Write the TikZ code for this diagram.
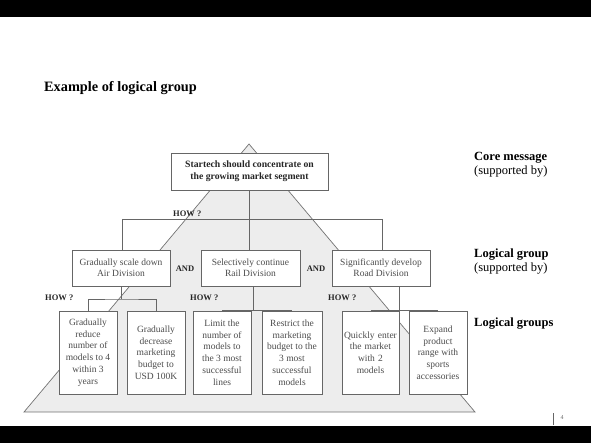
\documentclass[tikz,border=0pt]{standalone}
\usepackage{fontspec}
\setmainfont{Liberation Serif}
\begin{document}
\begin{tikzpicture}[x=1pt,y=-1pt,
  box/.style={draw=black!60,line width=0.8pt,fill=white,align=center,inner sep=0pt},
  l2text/.style={font=\fontsize{9.5}{11}\selectfont,text=black!70},
  l3text/.style={font=\fontsize{9.5}{11.7}\selectfont,text=black!70},
  conn/.style={draw=black!60,line width=0.6pt},
  lbl/.style={font=\bfseries\fontsize{8.5}{9}\selectfont,text=black!85,inner sep=0pt},
  side/.style={font=\fontsize{12.5}{15}\selectfont,align=left,anchor=north west,inner sep=0pt}]
\useasboundingbox (0,0) rectangle (591,443);
\fill[black] (0,0) rectangle (591,17);
\fill[black] (0,426) rectangle (591,443);
\node[anchor=base west,inner sep=0pt,font=\bfseries\fontsize{14.3}{16}\selectfont] (title) at (44,92) {Example of logical group};
% pyramid
\draw[draw=black!55,fill=black!7,line width=0.7pt] (249,144) -- (24,412) -- (475,412) -- cycle;
% core
\node[box,minimum width=157pt,minimum height=37pt,font=\bfseries\fontsize{9.7}{12}\selectfont,text=black!85] (core) at (249.5,171.5) {Startech should concentrate on\\the growing market segment};
% level 2
\node[box,l2text,minimum width=98pt,minimum height=36pt] (air) at (121,268) {Gradually scale down\\Air Division};
\node[box,l2text,minimum width=99pt,minimum height=36pt] (rail) at (250.5,268) {Selectively continue\\Rail Division};
\node[box,l2text,minimum width=98pt,minimum height=36pt] (road) at (381,268) {Significantly develop\\Road Division};
\coordinate (h1l) at (122,219);
\coordinate (h1m) at (249.5,219);
\coordinate (h1r) at (382,219);
\draw[conn] (core.south) -- (h1m);
\draw[conn] (h1l) -- (h1r);
\draw[conn] (h1l) -- (h1l |- air.north);
\draw[conn] (h1m) -- (h1m |- rail.north);
\draw[conn] (h1r) -- (h1r |- road.north);
\node[lbl,anchor=base west] (how1) at (173,217) {HOW ?};
\node[lbl] (and1) at (185,269) {AND};
\node[lbl] (and2) at (316,269) {AND};
\node[lbl,anchor=base west] (how2) at (45,301) {HOW ?};
\node[lbl,anchor=base west] (how3) at (190,301) {HOW ?};
\node[lbl,anchor=base west] (how4) at (328,301) {HOW ?};
% level 3
\node[box,l3text,minimum width=58pt,minimum height=83pt] (b1) at (88,352.5) {Gradually\\reduce\\number of\\models to 4\\within 3\\years};
\node[box,l3text,minimum width=58pt,minimum height=83pt] (b2) at (156,352.5) {Gradually\\decrease\\marketing\\budget to\\USD 100K};
\node[box,l3text,minimum width=58pt,minimum height=83pt] (b3) at (222,352.5) {Limit the\\number of\\models to\\the 3 most\\successful\\lines};
\node[box,l3text,minimum width=60pt,minimum height=83pt] (b4) at (292,352.5) {Restrict the\\marketing\\budget to the\\3 most\\successful\\models};
\node[box,l3text,minimum width=57pt,minimum height=83pt,text width=57pt] (b5) at (370.5,352.5) {Quickly enter\\the market\\with 2\\models};
\node[box,l3text,minimum width=58pt,minimum height=83pt] (b6) at (438,352.5) {Expand\\product\\range with\\sports\\accessories};
% level 3 connectors
\coordinate (a1) at (121,299);
\draw[conn] (air.south) -- (a1);
\draw[conn] (b1.north) |- (a1) -| (b2.north);
\coordinate (a2) at (253,311);
\draw[conn] (rail.south -| a2) -- (a2);
\draw[conn] (b3.north) -- (b4.north);
\coordinate (a3) at (399,311);
\draw[conn] (road.south -| a3) -- (a3);
\draw[conn] (b5.north) -- (b6.north);
% side labels
\node[side] (core-lbl) at (474,152) {\textbf{Core message}\\[-1pt](supported by)};
\node[side] (lg-lbl) at (474,249) {\textbf{Logical group}\\[-1pt](supported by)};
\node[side] (lgs-lbl) at (474,318) {\textbf{Logical groups}};
% page number
\draw[black!60,line width=0.8pt] (553,413) -- (553,425);
\node[font=\fontsize{6}{7}\selectfont,text=black!60,inner sep=0pt] (pg) at (562,418) {4};
\end{tikzpicture}
\end{document}
